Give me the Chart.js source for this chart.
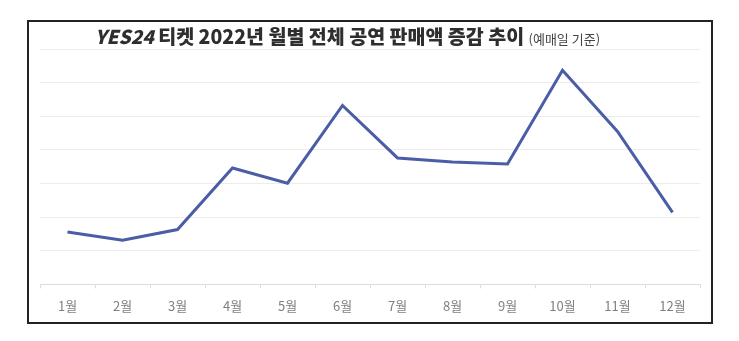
<!DOCTYPE html>
<html>
<head>
<meta charset="utf-8">
<script src="https://cdn.jsdelivr.net/npm/chart.js@4/dist/chart.umd.min.js"></script>
<style>
  html, body { margin: 0; padding: 0; background: #fff; }
  #wrap { position: relative; width: 739px; height: 341px; }
  #frame { position: absolute; left: 27px; top: 20px; width: 682px; height: 300px; border: 2px solid #222; pointer-events: none; }
</style>
</head>
<body>
<div id="wrap">
  <canvas id="c" width="739" height="341"></canvas>
  <div id="frame"></div>
</div>
<script>
const months = ['1월','2월','3월','4월','5월','6월','7월','8월','9월','10월','11월','12월'];
const sales = [1.56, 1.31, 1.63, 3.46, 3.01, 5.32, 3.76, 3.64, 3.58, 6.37, 4.55, 2.14];
const titleBrand = 'YES24';
const titleMain = ' 티켓 2022년 월별 전체 공연 판매액 증감 추이 ';
const titleNote = '(예매일 기준)';

const titlePlugin = {
  id: 'customTitle',
  afterDraw(chart) {
    const ctx = chart.ctx;
    ctx.save();
    ctx.fillStyle = '#2e2e2e';
    ctx.textBaseline = 'alphabetic';
    let x = 95, y = 44;
    ctx.font = 'italic 900 19px "Noto Sans CJK KR", "Noto Sans", sans-serif';
    ctx.fillText(titleBrand, x, y);
    x += ctx.measureText(titleBrand).width;
    ctx.font = '900 19.5px "Noto Sans CJK KR", sans-serif';
    ctx.fillText(titleMain, x, y);
    x += ctx.measureText(titleMain).width;
    ctx.font = '13px "Noto Sans CJK KR", sans-serif';
    ctx.fillStyle = '#444';
    ctx.fillText(titleNote, x, y);
    ctx.restore();
  }
};

new Chart(document.getElementById('c'), {
  type: 'line',
  data: {
    labels: months,
    datasets: [{
      data: sales,
      borderColor: '#4a5da6',
      borderWidth: 3,
      pointRadius: 0,
      tension: 0,
      fill: false
    }]
  },
  options: {
    responsive: false,
    animation: false,
    layout: { padding: { left: 40, right: 39, top: 49, bottom: 17 } },
    plugins: { legend: { display: false }, title: { display: false }, tooltip: { enabled: false } },
    scales: {
      x: {
        offset: true,
        grid: { offset: true, drawOnChartArea: false, drawTicks: true, tickLength: 4, color: '#dedede' },
        border: { display: true, color: '#dcdcdc' },
        ticks: { color: '#808080', font: { family: '"Noto Sans CJK KR", sans-serif', size: 13 }, padding: 10, maxRotation: 0 }
      },
      y: {
        min: 0, max: 7,
        ticks: { display: false, stepSize: 1 },
        grid: { drawTicks: false, color: '#ececec' },
        border: { display: false }
      }
    }
  },
  plugins: [titlePlugin]
});
</script>
</body>
</html>
